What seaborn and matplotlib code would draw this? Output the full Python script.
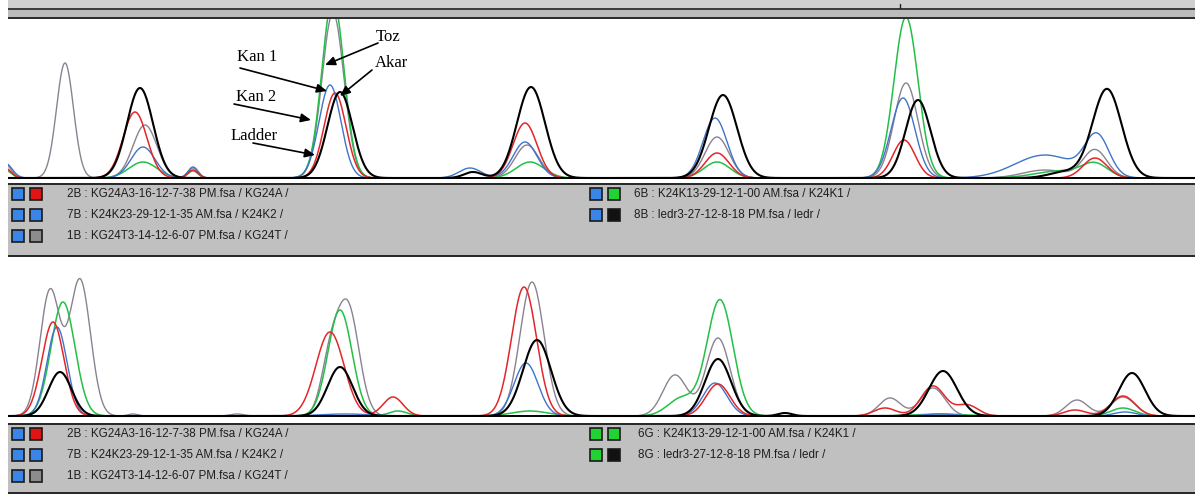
import numpy as np
import pandas as pd
import matplotlib
matplotlib.use("Agg")
import matplotlib.pyplot as plt
from matplotlib.patches import Rectangle
import seaborn as sns

# ---------------------------------------------------------------------------
# Samples / dye colours
samples = ["KG24T", "K24K1", "K24K2", "KG24A", "ledr"]
sample_colors = ["#8a8290", "#22c046", "#3f74c8", "#e3262a", "#000000"]
sample_widths = [1.0, 1.1, 1.0, 1.1, 1.5]

# Peak tables (sample, position, height, width) for the upper (B dye) panel
top_peak_sample = [
    "KG24T", "KG24T", "KG24T", "KG24T", "KG24T", "KG24T", "KG24T", "KG24T", "KG24T", "KG24T",
    "K24K2", "K24K2", "K24K2", "K24K2", "K24K2", "K24K2", "K24K2", "K24K2", "K24K2", "K24K2",
    "KG24A", "KG24A", "KG24A", "KG24A", "KG24A", "KG24A", "KG24A", "KG24A",
    "K24K1", "K24K1", "K24K1", "K24K1", "K24K1", "K24K1", "K24K1", "K24K1", "K24K1",
    "ledr", "ledr", "ledr", "ledr", "ledr", "ledr", "ledr", "ledr",
]
top_peak_pos = [
    5, 65, 145, 193, 333, 527, 717, 906, 1045, 1095,
    5, 143, 193, 330, 470, 525, 715, 903, 1045, 1097,
    5, 135, 193, 335, 525, 717, 904, 1095,
    5, 143, 193, 333, 530, 717, 906, 1060, 1095,
    140, 340, 473, 531, 723, 918, 1065, 1107,
]
top_peak_height = [
    14, 115, 53, 10, 165, 33, 41, 95, 8, 28,
    15, 31, 11, 93, 10, 36, 60, 80, 23, 40,
    10, 66, 8, 85, 55, 25, 38, 20,
    8, 16, 7, 180, 16, 16, 161, 7, 13,
    90, 86, 6, 91, 83, 78, 6, 89,
]
top_peak_width = [
    6, 8.5, 12, 5, 11, 12, 12, 12, 22, 12,
    7, 12, 5, 11, 11, 12, 12, 12, 30, 12,
    6, 12, 5, 11, 12, 12, 11, 12,
    6, 14, 5, 11, 14, 13, 12, 25, 13,
    13, 12.5, 9, 14, 14, 12.5, 16, 14.5,
]

# Peak tables for the lower (G dye) panel
bottom_peak_sample = [
    "KG24T", "KG24T", "KG24T", "KG24T", "KG24T", "KG24T", "KG24T", "KG24T", "KG24T", "KG24T", "KG24T", "KG24T", "KG24T",
    "K24K1", "K24K1", "K24K1", "K24K1", "K24K1", "K24K1", "K24K1", "K24K1",
    "KG24A", "KG24A", "KG24A", "KG24A", "KG24A", "KG24A", "KG24A", "KG24A", "KG24A", "KG24A",
    "K24K2", "K24K2", "K24K2", "K24K2", "K24K2", "K24K2",
    "ledr", "ledr", "ledr", "ledr", "ledr", "ledr", "ledr",
]
bottom_peak_pos = [
    50, 80, 133, 237, 330, 348, 532, 675, 718, 890, 933, 1077, 1123,
    63, 340, 398, 530, 682, 720, 940, 1123,
    53, 330, 393, 524, 718, 885, 933, 967, 1075, 1123,
    57, 345, 526, 715, 940, 1125,
    60, 340, 537, 718, 785, 943, 1132,
]
bottom_peak_height = [
    125, 136, 2, 2, 52, 108, 134, 41, 78, 18, 28, 16, 19,
    114, 106, 5, 5, 18, 116, 2, 8,
    94, 84, 19, 129, 32, 8, 30, 11, 6, 20,
    89, 2, 53, 33, 2, 4,
    44, 49, 76, 57, 3, 45, 43,
]
bottom_peak_width = [
    10, 10.5, 5, 7, 9, 11, 12, 12, 12, 11, 12, 11, 12,
    12, 12, 9, 18, 14, 13, 25, 12,
    11, 14, 10, 12.5, 12, 11, 12, 11, 11, 12,
    10, 25, 12, 12, 15, 11,
    11.5, 12.5, 14, 13, 7, 14, 13,
]

# Legend rows
top_left_rows = [
    "2B : KG24A3-16-12-7-38 PM.fsa / KG24A /",
    "7B : K24K23-29-12-1-35 AM.fsa / K24K2 /",
    "1B : KG24T3-14-12-6-07 PM.fsa / KG24T /",
]
top_right_rows = [
    "6B : K24K13-29-12-1-00 AM.fsa / K24K1 /",
    "8B : ledr3-27-12-8-18 PM.fsa / ledr /",
]
bottom_left_rows = top_left_rows
bottom_right_rows = [
    "6G : K24K13-29-12-1-00 AM.fsa / K24K1 /",
    "8G : ledr3-27-12-8-18 PM.fsa / ledr /",
]
left_sample_swatch = ["#e01414", "#3a86e8", "#8c8c8c"]
right_sample_swatch = ["#22d234", "#111111"]
dye_blue = "#3a86e8"
dye_green = "#22d234"

# Peak labels on the upper panel
peak_labels = ["Toz", "Kan 1", "Akar", "Kan 2", "Ladder"]

# ---------------------------------------------------------------------------
W, H = 1200, 497
sns.set_theme(style="white")
plt.rcParams["font.family"] = ["Liberation Sans", "DejaVu Sans"]

fig = plt.figure(figsize=(W / 100, H / 100), dpi=100)
fig.patch.set_facecolor("white")


def px_axes(x0, y0, x1, y1, **kw):
    return fig.add_axes([x0 / W, 1 - y1 / H, (x1 - x0) / W, (y1 - y0) / H], **kw)


# full-figure overlay in pixel coordinates for window chrome
chrome = fig.add_axes([0, 0, 1, 1], zorder=0)
chrome.set_xlim(0, W)
chrome.set_ylim(H, 0)
chrome.set_axis_off()


def prect(x0, y0, x1, y1, color, **kw):
    chrome.add_patch(Rectangle((x0, y0), x1 - x0, y1 - y0, facecolor=color,
                               edgecolor="none", **kw))


X0, X1 = 8, 1195
# top ruler strip
prect(X0, 0, X1, 8, "#cfcfcf")
prect(X0, 7.5, X1, 9.5, "#3c3c3c")
prect(X0, 9.5, X1, 16.5, "#bcbcbc")
prect(X0, 16.5, X1, 18.5, "#2e2e2e")
chrome.plot([900, 900], [4, 8], color="#202020", lw=1)


def legend_box(y0, y1, left_rows, right_rows, right_dye, right_text_x):
    prect(X0, y0, X1, y0 + 2, "#2a2a2a")
    prect(X0, y0 + 2, X1, y1 - 2, "#c0c0c0")
    prect(X0, y1 - 2, X1, y1, "#2a2a2a")
    row_y = [y0 + 11, y0 + 32, y0 + 53]
    for i, text in enumerate(left_rows):
        cy = row_y[i]
        for sx, col in ((12, dye_blue), (30, left_sample_swatch[i])):
            chrome.add_patch(Rectangle((sx, cy - 6), 12, 12, facecolor=col,
                                       edgecolor="#1a1a1a", lw=1.2))
        chrome.text(67, cy, text, fontsize=8.4, color="#1e1e1e",
                    va="center", ha="left")
    for i, text in enumerate(right_rows):
        cy = row_y[i]
        for sx, col in ((590, right_dye), (608, right_sample_swatch[i])):
            chrome.add_patch(Rectangle((sx, cy - 6), 12, 12, facecolor=col,
                                       edgecolor="#1a1a1a", lw=1.2))
        chrome.text(right_text_x, cy, text, fontsize=8.4, color="#1e1e1e",
                    va="center", ha="left")


legend_box(183, 257, top_left_rows, top_right_rows, dye_blue, 634)
legend_box(423, 494, bottom_left_rows, bottom_right_rows, dye_green, 638)

# ---------------------------------------------------------------------------
pos_grid = np.arange(X0, X1 + 0.5, 0.5)


def build_traces(peak_sample, peak_pos, peak_height, peak_width):
    frames = []
    for name in samples:
        signal = np.zeros_like(pos_grid)
        for s, p, h, w in zip(peak_sample, peak_pos, peak_height, peak_width):
            if s == name:
                signal += h * np.exp(-0.5 * ((pos_grid - p) / w) ** 2)
        frames.append(pd.DataFrame({"pos": pos_grid, "signal": signal,
                                    "sample": name}))
    return pd.concat(frames, ignore_index=True)


palette = dict(zip(samples, sample_colors))
sizes = dict(zip(samples, sample_widths))


def draw_panel(ax, df, ymin, ymax):
    sns.lineplot(data=df, x="pos", y="signal", hue="sample", size="sample",
                 hue_order=samples, size_order=samples, palette=palette,
                 sizes=sizes, estimator=None, sort=False, legend=False, ax=ax)
    ax.axhline(0, color="black", lw=1.4, zorder=5)
    ax.set_xlim(X0, X1)
    ax.set_ylim(ymin, ymax)
    ax.set_axis_off()


ax_top = px_axes(X0, 19, X1, 182, zorder=2)
ax_top.patch.set_alpha(0)
draw_panel(ax_top, build_traces(top_peak_sample, top_peak_pos,
                                top_peak_height, top_peak_width), -4, 159)

ax_bot = px_axes(X0, 258, X1, 421, zorder=2)
ax_bot.patch.set_alpha(0)
draw_panel(ax_bot, build_traces(bottom_peak_sample, bottom_peak_pos,
                                bottom_peak_height, bottom_peak_width), -5, 158)

# Peak labels (text centre) and their arrows (tail -> head), upper panel data units
label_specs = [
    ("Toz", (388, 141), (378, 135), (325, 113)),
    ("Kan 1", (257, 121), (240, 110), (327, 87)),
    ("Akar", (391, 115), (372, 108), (340, 82)),
    ("Kan 2", (256, 81), (234, 74), (311, 58)),
    ("Ladder", (254, 42), (253, 35), (315, 23)),
]
for text, (tx, ty), tail, head in label_specs:
    ax_top.text(tx, ty, text, fontsize=12,
                family=["Liberation Serif", "DejaVu Serif"], color="black",
                ha="center", va="center", zorder=10, clip_on=False)
    ax_top.annotate(
        "", xy=head, xytext=tail, textcoords="data", annotation_clip=False,
        arrowprops=dict(arrowstyle="-|>,head_length=0.5,head_width=0.22",
                        color="black", lw=1.2, shrinkA=0, shrinkB=0),
        zorder=10,
    )

fig.savefig("out.png", dpi=100, facecolor="white")
